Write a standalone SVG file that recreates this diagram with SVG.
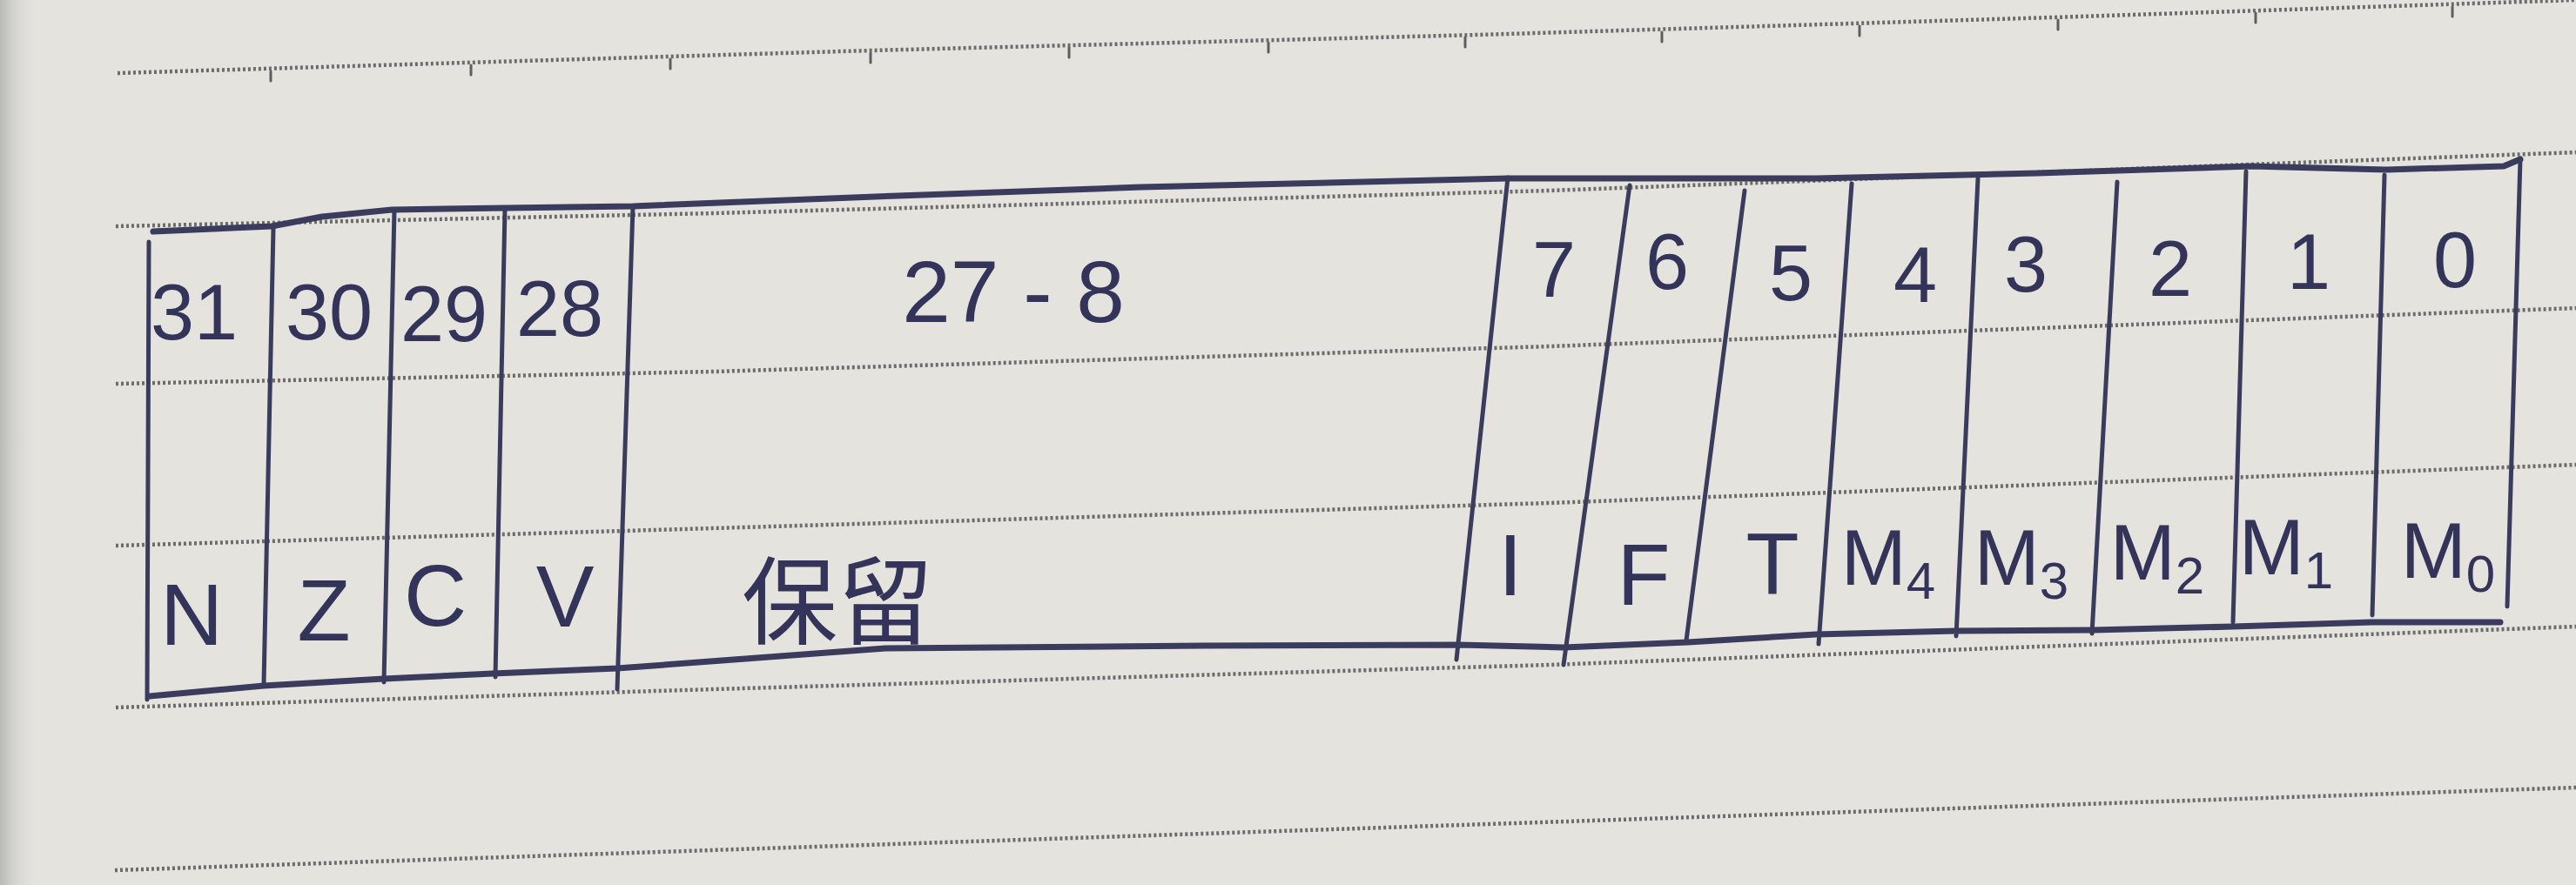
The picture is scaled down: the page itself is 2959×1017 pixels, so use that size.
<svg xmlns="http://www.w3.org/2000/svg" width="2959" height="1017" viewBox="0 0 2959 1017">
<defs>
<linearGradient id="edge" x1="0" y1="0" x2="1" y2="0">
<stop offset="0" stop-color="#b9b9b6"/>
<stop offset="1" stop-color="#e4e3de" stop-opacity="0"/>
</linearGradient>
<style>
.rule{fill:none;stroke:#6c6c69;stroke-width:4.5;stroke-dasharray:3 3}
.tick{stroke:#5e5e5b;stroke-width:3;stroke-linecap:round}
.border{fill:none;stroke:#3b3b5e;stroke-width:7;stroke-linejoin:round;stroke-linecap:round}
.div{fill:none;stroke:#3b3b5e;stroke-width:5;stroke-linecap:round}
.num{font-family:"Liberation Sans",Arial,sans-serif;font-size:90px;fill:#34345a;text-anchor:middle}
.let{font-family:"Liberation Sans",Arial,sans-serif;font-size:100px;fill:#34345a;text-anchor:middle}
.sub{font-size:60px}
.cjk{font-family:"Liberation Sans","Noto Sans CJK SC",sans-serif;font-size:110px;fill:#34345a;text-anchor:middle}
</style>
</defs>
<rect width="2959" height="1017" fill="#e4e3de"/>
<rect width="45" height="1017" fill="url(#edge)"/>
<g id="paper-rules">
<polyline class="rule" points="135,84 1000,58 1698,40 2358,20 2959,0"/>
<polyline class="rule" points="133,260 820,245 1780,219 2959,175"/>
<polyline class="rule" points="133,441 820,427 1780,398 2959,354"/>
<polyline class="rule" points="133,627 820,607 1780,578 2959,534"/>
<polyline class="rule" points="133,813 820,792 1780,764 2959,720"/>
<polyline class="rule" points="132,1000 2959,905"/>
<line class="tick" x1="311" y1="82" x2="311" y2="93"/>
<line class="tick" x1="541" y1="75" x2="541" y2="86"/>
<line class="tick" x1="770" y1="68" x2="770" y2="79"/>
<line class="tick" x1="1000" y1="61" x2="1000" y2="72"/>
<line class="tick" x1="1228" y1="55" x2="1228" y2="66"/>
<line class="tick" x1="1457" y1="49" x2="1457" y2="60"/>
<line class="tick" x1="1683" y1="43" x2="1683" y2="54"/>
<line class="tick" x1="1909" y1="37" x2="1909" y2="48"/>
<line class="tick" x1="2136" y1="30" x2="2136" y2="41"/>
<line class="tick" x1="2364" y1="23" x2="2364" y2="34"/>
<line class="tick" x1="2591" y1="15" x2="2591" y2="26"/>
<line class="tick" x1="2817" y1="8" x2="2817" y2="19"/>
</g>
<g id="register-frame">
<polyline class="border" points="176,266 312,260 370,249 450,241 580,239 727,237 1031,225 1311,215 1732,205 2086,205 2340,199 2586,191 2741,195 2876,191 2895,183"/>
<polyline class="border" points="172,800 303,788 441,780 566,774 709,768 1017,745 1381,742 1676,741 1796,744 1939,738 2086,729 2247,725 2405,724 2565,720 2725,715 2872,715"/>
<line class="div" x1="171" y1="278" x2="169" y2="804"/>
<line class="div" x1="314" y1="262" x2="303" y2="786"/>
<line class="div" x1="453" y1="241" x2="441" y2="784"/>
<line class="div" x1="580" y1="239" x2="569" y2="778"/>
<line class="div" x1="727" y1="237" x2="709" y2="792"/>
<line class="div" x1="1732" y1="204" x2="1673" y2="758"/>
<line class="div" x1="1872" y1="213" x2="1796" y2="764"/>
<line class="div" x1="2004" y1="219" x2="1937" y2="736"/>
<line class="div" x1="2127" y1="211" x2="2089" y2="740"/>
<line class="div" x1="2272" y1="205" x2="2247" y2="731"/>
<line class="div" x1="2432" y1="209" x2="2403" y2="728"/>
<line class="div" x1="2580" y1="197" x2="2565" y2="715"/>
<line class="div" x1="2739" y1="201" x2="2725" y2="707"/>
<line class="div" x1="2895" y1="183" x2="2880" y2="697"/>
</g>
<g id="cell-31"><text class="num" x="223" y="390">31</text><text class="let" x="220" y="741">N</text></g>
<g id="cell-30"><text class="num" x="378" y="390">30</text><text class="let" x="372" y="736">Z</text></g>
<g id="cell-29"><text class="num" x="510" y="392">29</text><text class="let" x="500" y="719">C</text></g>
<g id="cell-28"><text class="num" x="643" y="386">28</text><text class="let" x="649" y="720">V</text></g>
<g id="cell-27-8"><text class="num" x="1164" y="370" style="font-size:100px">27 - 8</text><text class="cjk" x="962" y="732">保留</text></g>
<g id="cell-7"><text class="num" x="1785" y="341">7</text><text class="let" x="1735" y="684">I</text></g>
<g id="cell-6"><text class="num" x="1915" y="332">6</text><text class="let" x="1888" y="695">F</text></g>
<g id="cell-5"><text class="num" x="2057" y="345">5</text><text class="let" x="2036" y="682">T</text></g>
<g id="cell-4"><text class="num" x="2200" y="347">4</text><text class="let" x="2169" y="672" style="font-size:90px">M<tspan class="sub" dy="16">4</tspan></text></g>
<g id="cell-3"><text class="num" x="2327" y="335">3</text><text class="let" x="2322" y="672" style="font-size:90px">M<tspan class="sub" dy="16">3</tspan></text></g>
<g id="cell-2"><text class="num" x="2493" y="340">2</text><text class="let" x="2478" y="666" style="font-size:90px">M<tspan class="sub" dy="16">2</tspan></text></g>
<g id="cell-1"><text class="num" x="2652" y="332">1</text><text class="let" x="2626" y="660" style="font-size:90px">M<tspan class="sub" dy="16">1</tspan></text></g>
<g id="cell-0"><text class="num" x="2820" y="330">0</text><text class="let" x="2812" y="664" style="font-size:90px">M<tspan class="sub" dy="16">0</tspan></text></g>
<g id="connectors"/>
</svg>
